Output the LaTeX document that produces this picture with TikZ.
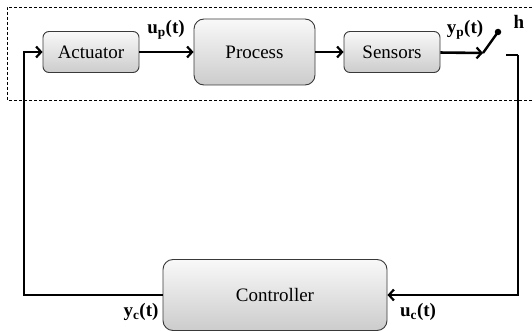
\documentclass[tikz,border=0pt]{standalone}
\usepackage{fontspec}
\setmainfont{Liberation Serif}
\usetikzlibrary{arrows.meta}

\tikzset{
  block/.style={draw=gray!45!black, line width=0.9pt, rounded corners=6pt,
    top color=gray!5, bottom color=gray!40, inner sep=0pt,
    font=\fontsize{19}{22}\selectfont},
  signal/.style={line width=2.6pt, -{Straight Barb[length=5pt,width=11pt,line width=2.2pt]}},
  wire/.style={line width=2.6pt},
  lbl/.style={font=\fontsize{19}{22}\selectfont\bfseries, inner sep=0pt}
}

\begin{document}
\begin{tikzpicture}[x=1pt,y=-1pt]
        \useasboundingbox (0,0) rectangle (532,331);

        % Dashed frame round the plant side
        \draw[dashed, line width=0.5pt, dash pattern=on 3pt off 2pt] (532,7) -- (7,7) -- (7,100) -- (532,100);

        % Blocks
        \node[block, minimum width=96pt, minimum height=41pt] (act) at (91,52) {Actuator};
        \node[block, minimum width=121pt, minimum height=66pt, rounded corners=10pt] (proc) at (254.5,52) {Process};
        \node[block, minimum width=96pt, minimum height=41pt] (sens) at (392,52) {Sensors};
        \node[block, minimum width=224pt, minimum height=71pt, rounded corners=10pt] (ctrl) at (275,295) {Controller};

        % Forward path
        \draw[signal] (act) -- (proc);
        \draw[signal] (proc) -- (sens);

        % Sampling switch h
        \coordinate (swin) at (483,53);
        \coordinate (swout) at (506,55);
        \coordinate (rc) at (518,55);
        \node[circle, fill=black, inner sep=0pt, minimum size=6.5pt] (swtip) at (498,32) {};
        \draw[signal] (sens) -- (swin);
        \draw[line width=2.4pt] (swin) -- (swtip.center);
        \node[lbl] (h) at (519,22) {h};

        % Feedback to the controller
        \coordinate (rb) at (518,295);
        \draw[wire] (swout) -- (rc);
        \draw[signal] (rc) -- (rb) -- (ctrl.east);

        % Controller back to the actuator
        \coordinate (lb) at (24,295);
        \coordinate (lt) at (24,52);
        \draw[signal] (ctrl.west) -- (lb) -- (lt) -- (act.west);

        % Signal labels
        \node[lbl] (up) at (166,30) {u\textsubscript{p}(t)};
        \node[lbl] (yp) at (465,30) {y\textsubscript{p}(t)};
        \node[lbl] (yc) at (141,312) {y\textsubscript{c}(t)};
        \node[lbl] (uc) at (418,312) {u\textsubscript{c}(t)};
\end{tikzpicture}
\end{document}
